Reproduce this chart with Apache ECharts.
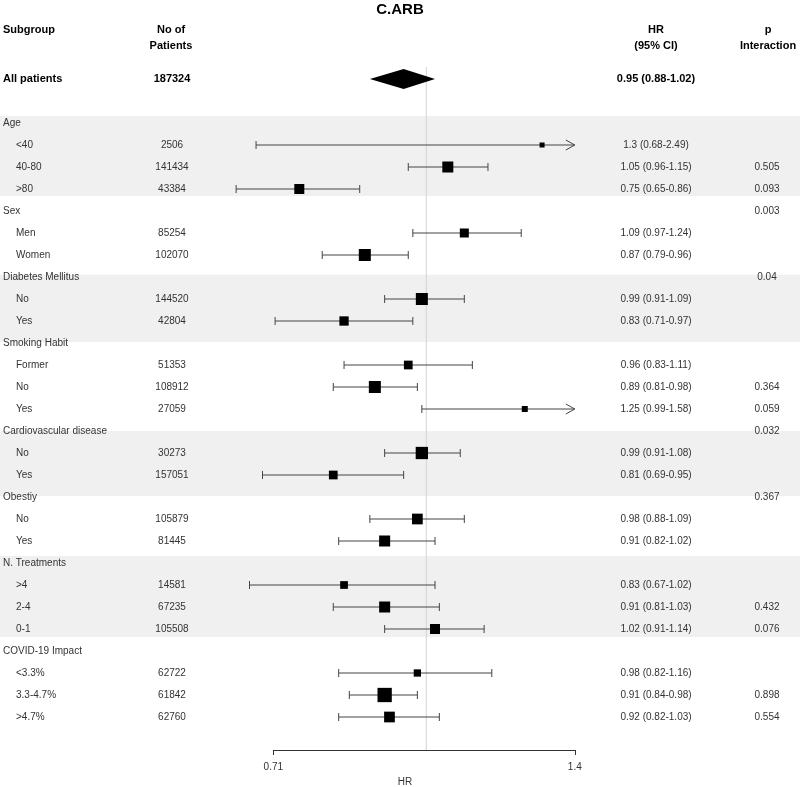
<!DOCTYPE html>
<html><head><meta charset="utf-8">
<script src="https://cdn.jsdelivr.net/npm/echarts@6/dist/echarts.min.js"></script>
<style>html,body{margin:0;padding:0;background:#fff}#c{width:800px;height:787px}</style>
</head><body><div id="c"></div>
<script>
// ---------------- data ----------------
const rowLabels = ['All patients','','Age','<40','40-80','>80','Sex','Men','Women','Diabetes Mellitus','No','Yes',
  'Smoking Habit','Former','No','Yes','Cardiovascular disease','No','Yes','Obestiy','No','Yes',
  'N. Treatments','>4','2-4','0-1','COVID-19 Impact','<3.3%','3.3-4.7%','>4.7%'];
const rowKinds = ['overall','blank','group','sub','sub','sub','group','sub','sub','group','sub','sub',
  'group','sub','sub','sub','group','sub','sub','group','sub','sub',
  'group','sub','sub','sub','group','sub','sub','sub'];
const patients = [187324,null,null,2506,141434,43384,null,85254,102070,null,144520,42804,
  null,51353,108912,27059,null,30273,157051,null,105879,81445,
  null,14581,67235,105508,null,62722,61842,62760];
const hr     = [0.95,null,null,1.3,1.05,0.75,null,1.09,0.87,null,0.99,0.83,null,0.96,0.89,1.25,null,0.99,0.81,null,0.98,0.91,null,0.83,0.91,1.02,null,0.98,0.91,0.92];
const ciLow  = [0.88,null,null,0.68,0.96,0.65,null,0.97,0.79,null,0.91,0.71,null,0.83,0.81,0.99,null,0.91,0.69,null,0.88,0.82,null,0.67,0.81,0.91,null,0.82,0.84,0.82];
const ciHigh = [1.02,null,null,2.49,1.15,0.86,null,1.24,0.96,null,1.09,0.97,null,1.11,0.98,1.58,null,1.08,0.95,null,1.09,1.02,null,1.02,1.03,1.14,null,1.16,0.98,1.03];
const pInteraction = ['','','','','0.505','0.093','0.003','','','0.04','','','','','0.364','0.059','0.032','','','0.367','','','','','0.432','0.076','','','0.898','0.554'];
// relative box weights
const weights = [null,null,null,0.35,0.77,0.70,null,0.63,0.84,null,0.84,0.65,null,0.61,0.84,0.42,null,0.86,0.61,null,0.75,0.77,null,0.54,0.77,0.70,null,0.51,1.0,0.75];
const tickValues = [0.7071, 1.4];
const tickLabels = ['0.71', '1.4'];
const headerLine1 = ['Subgroup','No of','HR','p'];
const headerLine2 = ['','Patients','(95% CI)','Interaction'];
const axisTitle = 'HR';
const chartTitle = 'C.ARB';

// ---------------- layout / style ----------------
const FONT = '"Liberation Sans", Arial, Helvetica, sans-serif';
const Y_MIN = -3.5, Y_MAX = 30.5;
const GRID_TOP = 2, GRID_BOTTOM = 37;
const COLS = {group: 3, sub: 16, patients: 172, hr: 656, p: 767};
const HEADER_COLS = [[3,'left'],[171,'center'],[656,'center'],[768,'center']];
const HEADER_ROWS = [-2.22, -1.5];
const BANDS = [[1.68,5.32],[8.9,11.95],[16.0,18.95],[21.68,25.36]];
const REF_TOP = -0.55;
const MAX_BOX = 14.3;
const CAP = 4;
const BAR_COLOR = '#444';

const chart = echarts.init(document.getElementById('c'));

const forestData = [];
hr.forEach((v, k) => {
  if (v == null) return;
  forestData.push([v, k, ciLow[k], ciHigh[k], weights[k] == null ? 0 : weights[k], rowKinds[k] === 'overall' ? 1 : 0]);
});
const axisMax = tickValues[tickValues.length - 1];

function forestItem(params, api) {
  const v = api.value(0), k = api.value(1), lo = api.value(2), hi = api.value(3), w = api.value(4), overall = api.value(5);
  const c = api.coord([v, k]);
  const pL = api.coord([lo, k]);
  const pH = api.coord([Math.min(hi, axisMax), k]);
  if (overall) {
    const h = 10;
    return {type: 'polygon', shape: {points: [[pL[0], c[1]], [c[0], c[1] - h], [pH[0], c[1]], [c[0], c[1] + h]]}, style: {fill: '#000'}};
  }
  const ls = {stroke: BAR_COLOR, lineWidth: 1};
  const ch = [
    {type: 'line', shape: {x1: pL[0], y1: pL[1], x2: pH[0], y2: pH[1]}, style: ls},
    {type: 'line', shape: {x1: pL[0], y1: pL[1] - CAP, x2: pL[0], y2: pL[1] + CAP}, style: ls}
  ];
  if (hi > axisMax) {
    ch.push({type: 'polyline', shape: {points: [[pH[0] - 9, pH[1] - 5], [pH[0], pH[1]], [pH[0] - 9, pH[1] + 5]]}, style: {stroke: BAR_COLOR, lineWidth: 1, fill: null}});
  } else {
    ch.push({type: 'line', shape: {x1: pH[0], y1: pH[1] - CAP, x2: pH[0], y2: pH[1] + CAP}, style: ls});
  }
  const s = w * MAX_BOX;
  ch.push({type: 'rect', shape: {x: c[0] - s / 2, y: c[1] - s / 2, width: s, height: s}, style: {fill: '#000'}});
  return {type: 'group', children: ch};
}

function tableItem(params, api) {
  const k = api.value(1);
  const kind = rowKinds[k];
  const bold = kind === 'overall';
  const style = {fill: bold ? '#000' : '#333', fontFamily: FONT, fontSize: bold ? 11 : 10, fontWeight: bold ? 'bold' : 'normal', verticalAlign: 'middle'};
  const children = [];
  const add = (col, text, align) => {
    if (text === '' || text == null) return;
    const p = api.coord([col, k]);
    children.push({type: 'text', x: p[0], y: p[1], style: Object.assign({text: String(text), align: align}, style)});
  };
  add(kind === 'sub' ? COLS.sub : COLS.group, rowLabels[k], 'left');
  add(COLS.patients, patients[k], 'center');
  if (hr[k] != null) add(COLS.hr, hr[k] + ' (' + ciLow[k] + '-' + ciHigh[k] + ')', 'center');
  add(COLS.p, pInteraction[k], 'center');
  return {type: 'group', children};
}

function headerItem(params, api) {
  const line = api.value(1);
  const texts = line === 0 ? headerLine1 : headerLine2;
  const children = [];
  texts.forEach((t, i) => {
    if (!t) return;
    const p = api.coord([HEADER_COLS[i][0], HEADER_ROWS[line]]);
    children.push({type: 'text', x: p[0], y: p[1], style: {text: t, align: HEADER_COLS[i][1], verticalAlign: 'middle', fill: '#000', fontFamily: FONT, fontSize: 11, fontWeight: 'bold'}});
  });
  return {type: 'group', children};
}

function bandItem(params, api) {
  const a = api.coord([0, api.value(0)]);
  const b = api.coord([800, api.value(1)]);
  return {type: 'rect', shape: {x: a[0], y: a[1], width: b[0] - a[0], height: b[1] - a[1]}, style: {fill: '#f0f0f0'}};
}

const option = {
  animation: false,
  backgroundColor: '#fff',
  title: {text: chartTitle, left: 'center', top: 2, padding: 0, textStyle: {fontFamily: FONT, fontSize: 15, fontWeight: 'bold', color: '#000'}},
  grid: [
    {left: 273.3, right: 225.2, top: GRID_TOP, bottom: GRID_BOTTOM},
    {left: 0, right: 0, top: GRID_TOP, bottom: GRID_BOTTOM}
  ],
  xAxis: [
    {type: 'log', gridIndex: 0, min: tickValues[0], max: axisMax,
      axisLine: {show: true, onZero: false, lineStyle: {color: '#333', width: 1}},
      axisTick: {show: true, customValues: tickValues, length: 5, inside: false, lineStyle: {color: '#333', width: 1}},
      axisLabel: {show: true, customValues: tickValues, margin: 12, fontFamily: FONT, fontSize: 10, color: '#333',
        formatter: function (v) { let best = 0; tickValues.forEach((t, i) => { if (Math.abs(t - v) < Math.abs(tickValues[best] - v)) best = i; }); return tickLabels[best]; }},
      splitLine: {show: false}, minorTick: {show: false}},
    {type: 'value', gridIndex: 1, min: 0, max: 800, show: false}
  ],
  yAxis: [
    {type: 'value', gridIndex: 0, min: Y_MIN, max: Y_MAX, inverse: true, show: false},
    {type: 'value', gridIndex: 1, min: Y_MIN, max: Y_MAX, inverse: true, show: false}
  ],
  graphic: [
    {type: 'text', x: 405, y: 782, style: {text: axisTitle, align: 'center', verticalAlign: 'middle', fill: '#333', fontFamily: FONT, fontSize: 10}}
  ],
  series: [
    {type: 'custom', name: 'bands', xAxisIndex: 1, yAxisIndex: 1, z: 0, silent: true, clip: false,
      encode: {x: -1, y: [0, 1]}, data: BANDS, renderItem: bandItem},
    {type: 'line', name: 'ref', xAxisIndex: 0, yAxisIndex: 0, z: 2, silent: true, symbol: 'none',
      lineStyle: {color: '#d3d3d3', width: 1}, data: [[1, REF_TOP], [1, Y_MAX]]},
    {type: 'custom', name: 'forest', xAxisIndex: 0, yAxisIndex: 0, z: 3, clip: false, silent: true,
      encode: {x: 0, y: 1}, data: forestData, renderItem: forestItem},
    {type: 'custom', name: 'table', xAxisIndex: 1, yAxisIndex: 1, z: 4, clip: false, silent: true,
      encode: {x: 0, y: 1}, data: rowLabels.map((_, k) => [0, k]), renderItem: tableItem},
    {type: 'custom', name: 'header', xAxisIndex: 1, yAxisIndex: 1, z: 4, clip: false, silent: true,
      encode: {x: 0, y: 1}, data: [[0, 0], [0, 1]], renderItem: headerItem}
  ]
};
chart.setOption(option);
</script>
</body></html>
